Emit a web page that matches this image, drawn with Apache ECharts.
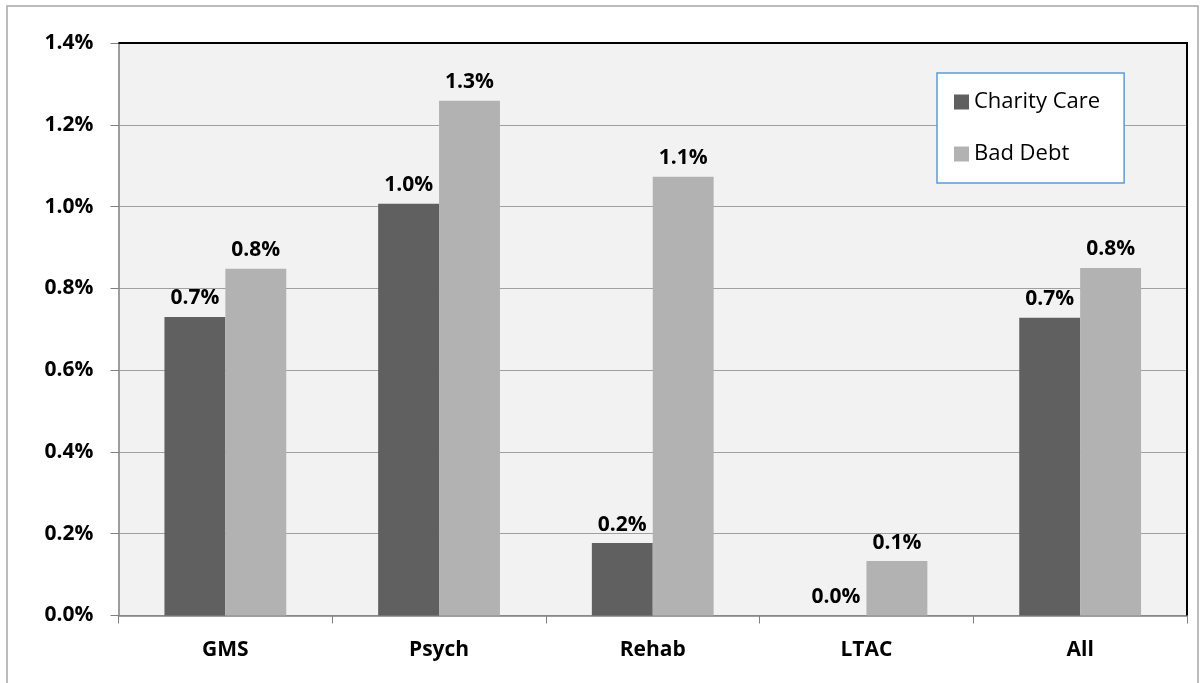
<!DOCTYPE html>
<html><head><meta charset="utf-8">
<script src="https://cdn.jsdelivr.net/npm/echarts@6/dist/echarts.min.js"></script>
<style>html,body{margin:0;padding:0;background:#fff}#c{width:1202px;height:683px}</style>
</head><body><div id="c"></div>
<script>
const categories = ['GMS', 'Psych', 'Rehab', 'LTAC', 'All'];
const charityCare = [0.730, 1.007, 0.177, 0.0, 0.728];
const badDebt = [0.848, 1.259, 1.073, 0.133, 0.850];
const yTicks = [0, 0.2, 0.4, 0.6, 0.8, 1.0, 1.2, 1.4];

const FONT = '"Open Sans", "Liberation Sans", sans-serif';
const chart = echarts.init(document.getElementById('c'));
const labelCfg = {
  show: true, position: 'top', distance: 8,
  fontFamily: FONT, fontWeight: 'bold', fontSize: 21, color: '#000',
  formatter: p => p.value.toFixed(1) + '%'
};
chart.setOption({
  animation: false,
  backgroundColor: '#fff',
  grid: { left: 118.5, right: 15, top: 43, bottom: 67.5, show: true, backgroundColor: '#f2f2f2', borderWidth: 0 },
  legend: {
    orient: 'vertical', left: 937, top: 73,
    padding: [18, 24, 18, 17],
    backgroundColor: '#fff', borderColor: '#5b9bd5', borderWidth: 1.5,
    itemWidth: 15, itemHeight: 15, itemGap: 30, icon: 'rect',
    textStyle: { fontFamily: FONT, fontSize: 22, color: '#000' },
    data: ['Charity Care', 'Bad Debt']
  },
  xAxis: {
    type: 'category', data: categories,
    axisLine: { lineStyle: { color: '#808080', width: 1.5 } },
    axisTick: { show: true, length: 8, lineStyle: { color: '#808080' } },
    axisLabel: { margin: 24, fontFamily: FONT, fontWeight: 'bold', fontSize: 21, color: '#000' }
  },
  yAxis: {
    type: 'value', min: 0, max: 1.4, interval: 0.2,
    axisLine: { show: true, lineStyle: { color: '#808080', width: 1.5 } },
    axisTick: { show: true, length: 8, lineStyle: { color: '#808080' } },
    splitLine: { lineStyle: { color: '#a0a0a0', width: 1.2 } },
    axisLabel: { margin: 25, fontFamily: FONT, fontWeight: 'bold', fontSize: 21, color: '#000',
      formatter: v => v.toFixed(1) + '%' }
  },
  series: [
    { name: 'Charity Care', type: 'bar', data: charityCare, barGap: '0%', barCategoryGap: '43%',
      itemStyle: { color: '#606060' }, label: labelCfg },
    { name: 'Bad Debt', type: 'bar', data: badDebt,
      itemStyle: { color: '#b2b2b2' }, label: labelCfg }
  ],
  graphic: [
    { type: 'rect', shape: { x: 7, y: 6, width: 1191, height: 700 }, style: { fill: 'none', stroke: '#a6a6a6', lineWidth: 1.5 }, silent: true, z: -1 },
    { type: 'polyline', shape: { points: [[118.5, 43], [1187, 43], [1187, 615.5]] }, style: { fill: 'none', stroke: '#000', lineWidth: 2 }, silent: true, z: 10 }
  ]
});
</script></body></html>
